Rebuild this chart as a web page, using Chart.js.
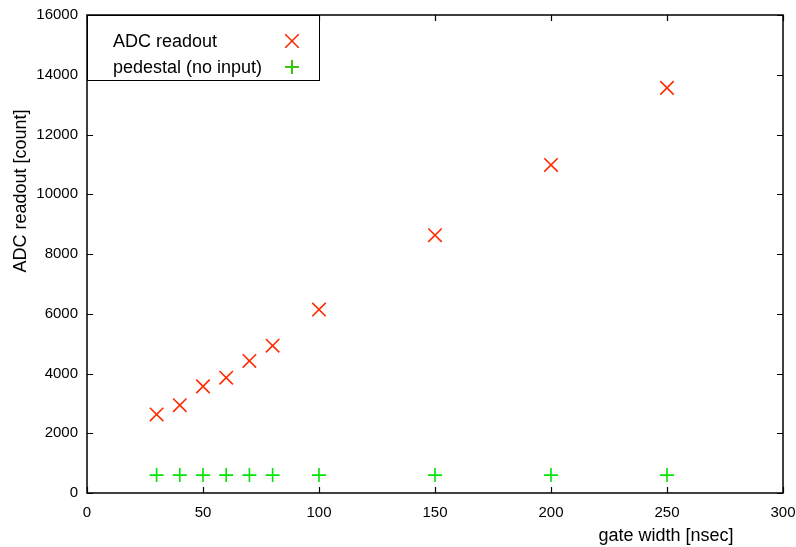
<!DOCTYPE html>
<html>
<head>
<meta charset="utf-8">
<script src="https://cdn.jsdelivr.net/npm/chart.js@4.4.1/dist/chart.umd.min.js"></script>
<style>
  html, body { margin: 0; padding: 0; background: #fff; }
  #wrap { width: 796px; height: 547px; }
</style>
</head>
<body>
<div id="wrap"><canvas id="chart" width="796" height="547"></canvas></div>
<script>
// gate width [nsec]
const gateWidths = [30, 40, 50, 60, 70, 80, 100, 150, 200, 250];
// ADC counts
const adcReadout = [2630, 2940, 3570, 3860, 4420, 4930, 6140, 8630, 10980, 13560];
const pedestal = [600, 600, 600, 600, 600, 600, 600, 600, 600, 600];

const seriesLabels = ["ADC readout", "pedestal (no input)"];
const xTitle = "gate width [nsec]";
const yTitle = "ADC readout [count]";

const colors = { adc: "#ff2a00", ped: "#00e400", frame: "#000" };
const font = "Liberation Sans, Arial, Helvetica, sans-serif";

const toPoints = (ys) => gateWidths.map((x, i) => ({ x, y: ys[i] }));

// frame, inward ticks on all four sides, axis titles, boxed legend
const framePlugin = {
  id: "frame",
  afterDraw(chart) {
    const { ctx, chartArea: a, scales } = chart;
    const t = 6;
    ctx.save();
    ctx.strokeStyle = colors.frame;
    ctx.lineWidth = 1.5;
    ctx.strokeRect(a.left, a.top, a.right - a.left, a.bottom - a.top);

    ctx.lineWidth = 1.2;
    ctx.beginPath();
    for (const tk of scales.x.ticks) {
      const px = Math.round(scales.x.getPixelForValue(tk.value)) + 0.5;
      ctx.moveTo(px, a.bottom); ctx.lineTo(px, a.bottom - t);
      ctx.moveTo(px, a.top); ctx.lineTo(px, a.top + t);
    }
    for (const tk of scales.y.ticks) {
      const py = Math.round(scales.y.getPixelForValue(tk.value)) + 0.5;
      ctx.moveTo(a.left, py); ctx.lineTo(a.left + t, py);
      ctx.moveTo(a.right, py); ctx.lineTo(a.right - t, py);
    }
    ctx.stroke();

    // axis titles
    ctx.fillStyle = "#000";
    ctx.font = "18px " + font;
    ctx.textAlign = "center";
    ctx.textBaseline = "middle";
    ctx.fillText(xTitle, 666, 536);
    ctx.save();
    ctx.translate(21, 191);
    ctx.rotate(-Math.PI / 2);
    ctx.fillText(yTitle, 0, 0);
    ctx.restore();

    // legend box
    const box = { x: a.left, y: a.top, w: 232, h: 65 };
    ctx.fillStyle = "#fff";
    ctx.fillRect(box.x, box.y, box.w, box.h);
    ctx.lineWidth = 1;
    ctx.strokeStyle = "#000";
    ctx.strokeRect(box.x + 0.5, box.y + 0.5, box.w, box.h);
    ctx.textAlign = "left";
    ctx.fillStyle = "#000";
    const rows = [27, 53];
    chart.data.datasets.forEach((ds, i) => {
      const y = box.y + rows[i];
      ctx.fillText(ds.label, box.x + 26, y);
      Chart.helpers.drawPoint(ctx, {
        pointStyle: ds.pointStyle,
        radius: ds.pointRadius,
        borderWidth: ds.borderWidth,
      }, box.x + 205, y - 1);
      ctx.strokeStyle = ds.borderColor;
      ctx.lineWidth = ds.borderWidth;
      ctx.stroke();
    });
    ctx.restore();
  },
};

const plain = (v) => String(v);

new Chart(document.getElementById("chart"), {
  type: "scatter",
  data: {
    datasets: [
      {
        label: seriesLabels[0],
        data: toPoints(adcReadout),
        pointStyle: "crossRot",
        pointRadius: 9.5,
        borderWidth: 1.6,
        borderColor: colors.adc,
        backgroundColor: colors.adc,
      },
      {
        label: seriesLabels[1],
        data: toPoints(pedestal),
        pointStyle: "cross",
        pointRadius: 7,
        borderWidth: 1.6,
        borderColor: colors.ped,
        backgroundColor: colors.ped,
      },
    ],
  },
  options: {
    responsive: false,
    animation: false,
    layout: { padding: { left: 0, top: 15, right: 13, bottom: 0 } },
    plugins: { legend: { display: false }, tooltip: { enabled: false } },
    scales: {
      x: {
        type: "linear",
        min: 0,
        max: 300,
        afterFit(s) {
          s.height = 54;
          s.paddingLeft = 0;
          s.paddingRight = 0;
        },
        ticks: { stepSize: 50, color: "#000", padding: 3, callback: plain, font: { size: 15, family: font } },
        grid: { display: false },
        border: { display: false },
      },
      y: {
        type: "linear",
        min: 0,
        max: 16000,
        afterFit(s) { s.width = 87; },
        ticks: { stepSize: 2000, color: "#000", padding: 1, callback: plain, font: { size: 15, family: font } },
        grid: { display: false },
        border: { display: false },
      },
    },
  },
  plugins: [framePlugin],
});
</script>
</body>
</html>
